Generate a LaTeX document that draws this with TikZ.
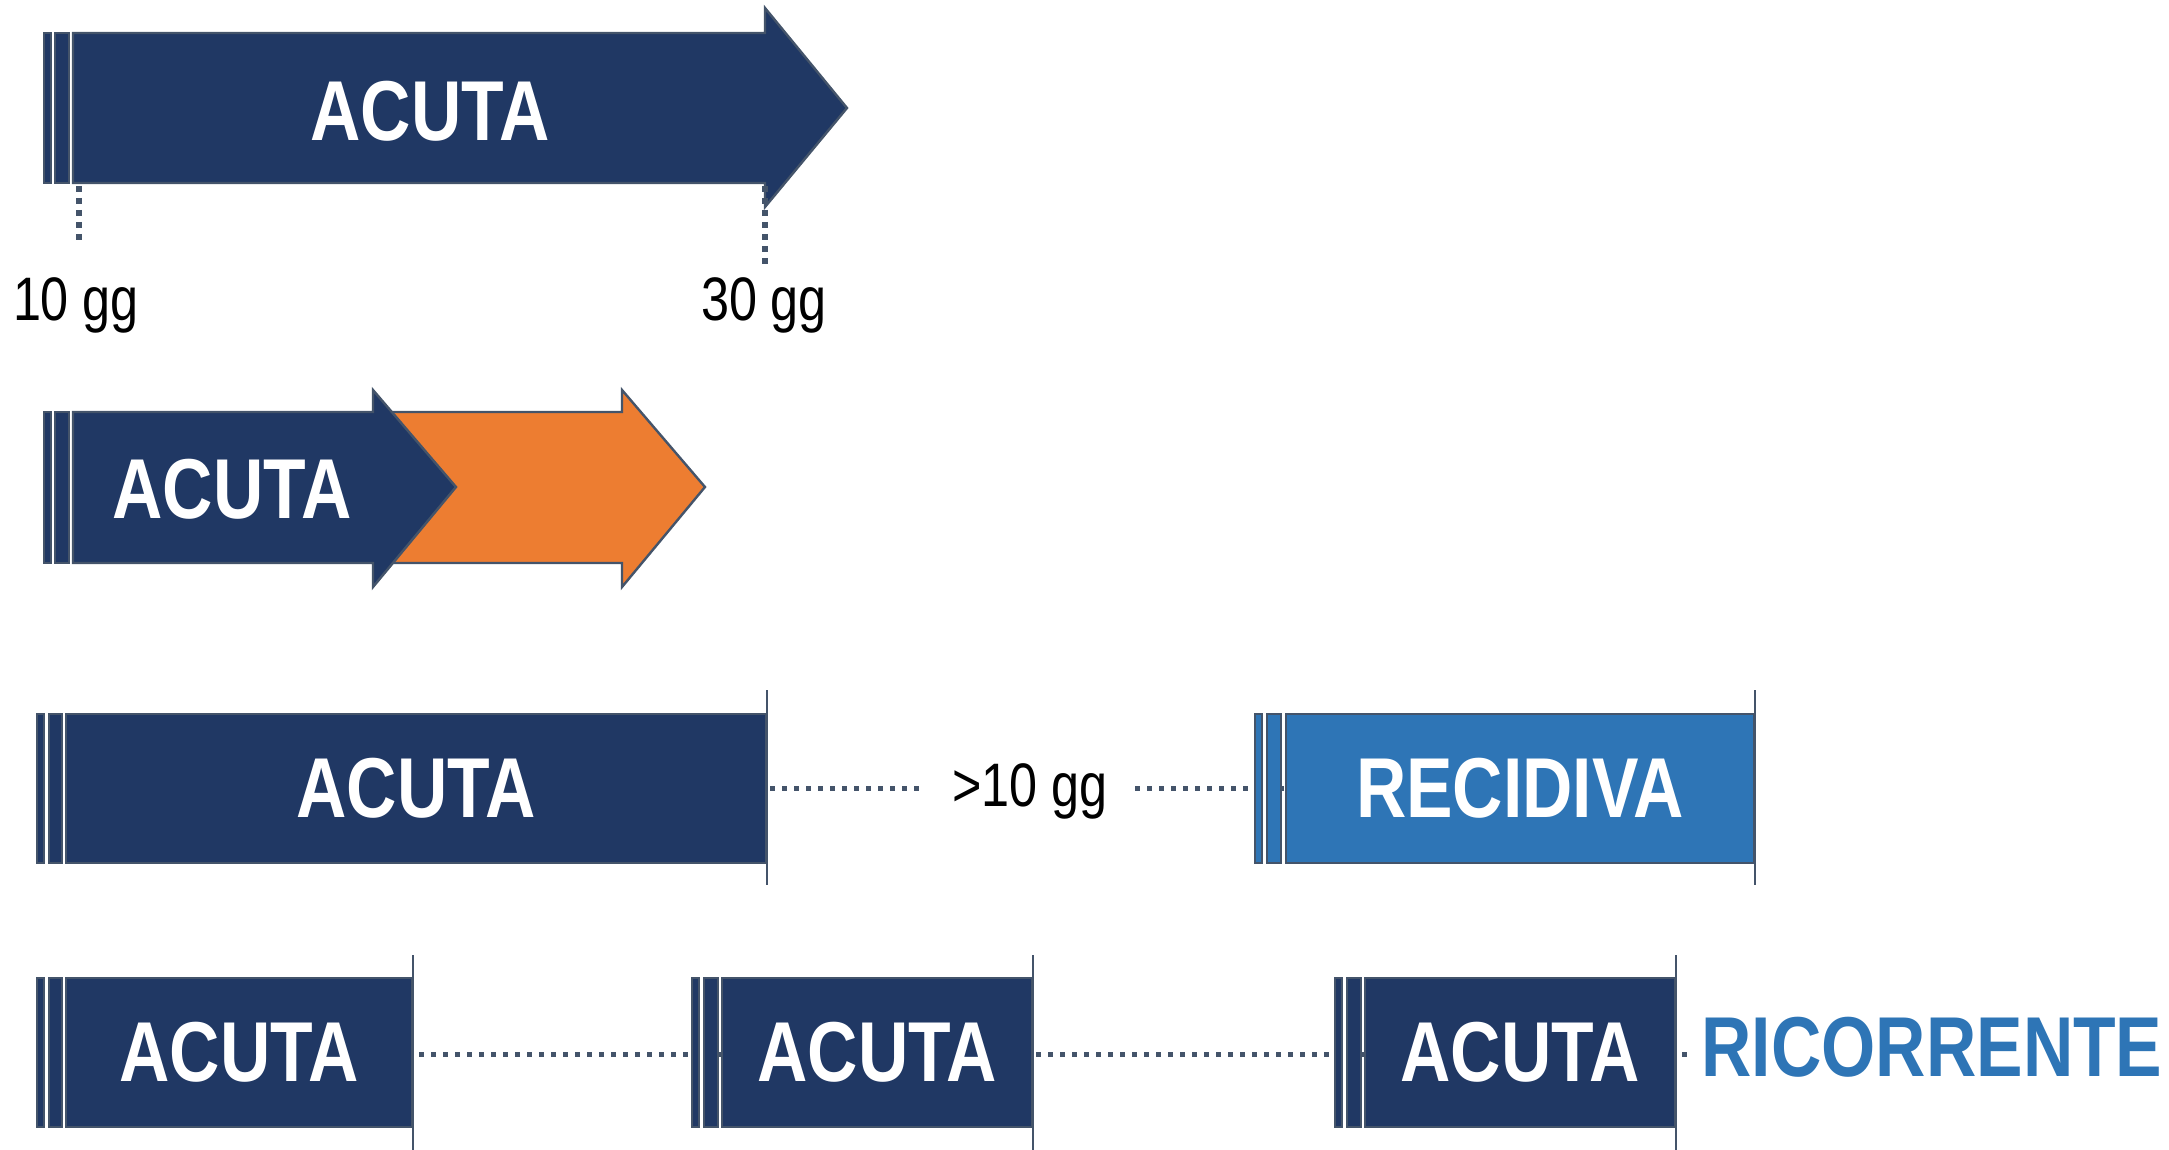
\documentclass[tikz,border=0pt]{standalone}
\usepackage{fontspec}
\setmainfont{Liberation Sans}[FakeStretch=0.82]
\usetikzlibrary{backgrounds}
\definecolor{navy}{HTML}{203864}
\definecolor{slate}{HTML}{44546A}
\definecolor{orng}{HTML}{ED7D31}
\definecolor{rblue}{HTML}{2E75B6}
\tikzset{
  stripe/.style={fill=navy, draw=slate, line width=1.2pt},
  bstripe/.style={fill=rblue, draw=slate, line width=1.2pt},
  shapeline/.style={draw=slate, line width=1.2pt},
  bodybox/.style={fill=navy, draw=slate, line width=1.2pt, inner sep=0pt, minimum height=74.5pt,
    text=white, font=\bfseries\fontsize{42.5}{50}\selectfont},
  bigtxt/.style={text=white, inner sep=0pt, font=\bfseries\fontsize{42.5}{50}\selectfont},
  lbl/.style={text=black, inner sep=0pt, font=\fontsize{30.7}{36}\selectfont},
  dotline/.style={draw=slate, line width=2.5pt, dash pattern=on 2.5pt off 3.5pt},
  vdots/.style={draw=slate, line width=3pt, dash pattern=on 3pt off 3pt},
  endbar/.style={draw=slate, line width=1.2pt}
}
\begin{document}
\begin{tikzpicture}[x=0.5pt,y=-0.5pt]
\useasboundingbox (0,0) rectangle (2169,1150);
% ---------------- Row 1
\draw[stripe] (44,33) rectangle (51,183);
\draw[stripe] (55,33) rectangle (69,183);
\draw[shapeline, fill=navy] (73,33) -- (765,33) -- (765,8) -- (847,108) -- (765,207) -- (765,183) -- (73,183) -- cycle;
\node[bigtxt] (acuta1) at (430,111) {ACUTA};
\coordinate (t10top) at (79,186);
\coordinate (t10bot) at (79,240);
\coordinate (t30top) at (765,186);
\coordinate (t30bot) at (765,264);
\draw[vdots] (t10top) -- (t10bot);
\draw[vdots] (t30top) -- (t30bot);
\node[lbl, anchor=base] (g10) at (76,321) {10 gg};
\node[lbl, anchor=base] (g30) at (764,321) {30 gg};
% ---------------- Row 2
\draw[shapeline, fill=orng] (380,412) -- (622,412) -- (622,390) -- (705,487) -- (622,587) -- (622,563) -- (380,563) -- cycle;
\draw[stripe] (44,412) rectangle (51,563);
\draw[stripe] (55,412) rectangle (69,563);
\draw[shapeline, fill=navy] (73,412) -- (373,412) -- (373,390) -- (456,487) -- (373,587) -- (373,563) -- (73,563) -- cycle;
\node[bigtxt] (acuta2) at (232,489) {ACUTA};
% ---------------- Row 3
\node[bodybox, minimum width=350pt] (a3) at (416,788.5) {ACUTA};
\draw[stripe] (37,714) rectangle (44,863);
\draw[stripe] (49,714) rectangle (62,863);
\draw[endbar] (a3.east |- 0,690) -- (a3.east |- 0,885);
\node[lbl, inner xsep=13.5pt, anchor=base] (gt) at (1030,806) {>10 gg};
\node[bodybox, fill=rblue, minimum width=234pt] (rec) at (1520,788.5) {RECIDIVA};
\draw[bstripe] (1255,714) rectangle (1262,863);
\draw[bstripe] (1267,714) rectangle (1281,863);
\draw[endbar] (rec.east |- 0,690) -- (rec.east |- 0,885);
\begin{scope}[on background layer]
\draw[dotline, shorten <=1.5pt] (a3.east |- 0,788) -- (gt.west |- 0,788);
\draw[dotline] (gt.east |- 0,788) -- (rec.west |- 0,788);
\end{scope}
% ---------------- Row 4
\node[bodybox, minimum width=173pt] (b1) at (239,1052.5) {ACUTA};
\draw[stripe] (37,978) rectangle (44,1127);
\draw[stripe] (49,978) rectangle (62,1127);
\draw[endbar] (b1.east |- 0,955) -- (b1.east |- 0,1150);
\node[bodybox, minimum width=155pt] (b2) at (877,1052.5) {ACUTA};
\draw[stripe] (692,978) rectangle (699,1127);
\draw[stripe] (704,978) rectangle (718,1127);
\draw[endbar] (b2.east |- 0,955) -- (b2.east |- 0,1150);
\node[bodybox, minimum width=155pt] (b3) at (1520,1052.5) {ACUTA};
\draw[stripe] (1335,978) rectangle (1342,1127);
\draw[stripe] (1347,978) rectangle (1361,1127);
\draw[endbar] (b3.east |- 0,955) -- (b3.east |- 0,1150);
\coordinate (rend) at (1688,1054);
\node[text=rblue, inner sep=0pt, font=\bfseries\fontsize{42.5}{50}\selectfont] (ric) at (1932,1047) {RICORRENTE};
\begin{scope}[on background layer]
\draw[dotline, shorten <=3pt] (b1.east |- 0,1054) -- (b2.west |- 0,1054);
\draw[dotline, shorten <=1.5pt] (b2.east |- 0,1054) -- (b3.west |- 0,1054);
\draw[dotline, shorten <=3pt] (b3.east |- 0,1054) -- (rend);
\end{scope}
\end{tikzpicture}
\end{document}
